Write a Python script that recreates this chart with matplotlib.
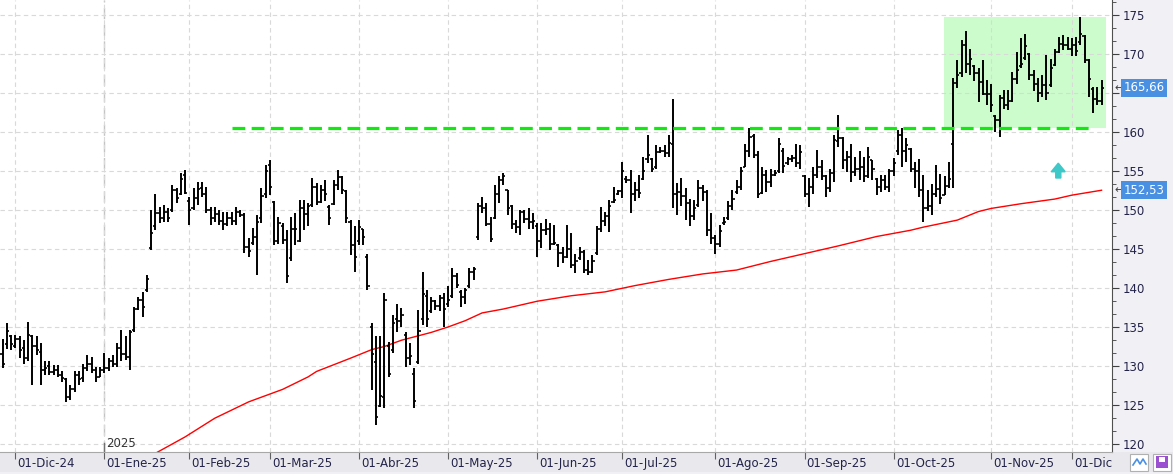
import numpy as np
import matplotlib
matplotlib.use("Agg")
import matplotlib.pyplot as plt
import matplotlib.transforms as mtransforms
from matplotlib.ticker import MultipleLocator, FuncFormatter
from matplotlib.patches import Rectangle, FancyArrow

# daily OHLC, one bar per trading day (26-Nov-24 .. 10-Dec-25)
highs = [133.5,135.5,134.0,134.0,133.8,133.3,135.7,134.0,133.8,132.9,
         130.6,130.6,130.1,130.1,129.3,128.5,127.6,129.3,129.3,130.3,
         131.4,131.2,129.9,129.9,131.6,131.0,131.4,132.9,134.6,133.9,
         134.6,137.6,138.9,139.5,141.7,150.0,152.1,150.4,150.6,150.2,
         153.2,152.8,154.7,155.1,151.7,152.8,153.6,153.6,153.0,150.4,
         150.4,150.0,149.8,149.8,149.8,150.4,150.0,149.6,146.4,147.7,
         149.4,152.8,155.8,156.4,151.1,149.1,148.3,147.4,149.1,149.6,
         151.3,151.3,150.9,154.1,153.4,153.2,153.8,150.6,153.8,155.1,
         154.3,152.6,148.7,147.9,148.7,147.6,144.4,135.5,133.8,133.8,
         139.3,133.1,136.5,138.0,137.4,134.4,132.9,129.7,137.2,142.1,
         139.7,138.9,138.5,139.1,139.3,140.2,142.5,141.9,139.7,140.0,
         142.5,142.7,150.9,151.7,150.9,149.1,153.2,154.3,154.7,152.6,
         150.6,148.7,150.0,150.0,150.2,149.6,148.3,148.3,148.9,148.3,
         148.1,145.7,145.3,148.1,147.0,144.4,145.3,144.9,143.6,144.2,
         147.9,150.4,149.8,151.3,153.0,152.6,156.2,154.3,155.1,153.6,
         154.5,156.8,159.6,156.6,158.3,158.1,158.3,159.6,164.2,153.4,
         154.1,152.8,151.4,151.3,153.8,153.2,152.6,149.6,146.8,148.1,
         149.1,151.1,152.6,153.8,155.5,158.5,160.5,159.8,157.5,155.5,
         155.1,155.3,155.1,159.2,157.9,156.8,157.0,158.5,158.3,154.5,
         154.1,155.5,157.7,156.4,154.5,155.3,159.6,162.2,159.4,157.5,
         158.5,156.8,157.5,156.8,158.1,156.4,154.1,154.5,154.5,155.3,
         156.6,160.3,160.5,159.2,158.0,156.1,156.5,154.5,152.5,153.3,
         155.8,154.6,154.3,156.2,166.9,169.2,171.8,172.9,170.7,168.6,
         168.2,169.2,166.7,166.2,162.2,164.7,165.4,165.4,167.7,170.3,
         172.0,172.6,170.1,167.9,166.9,167.3,169.9,169.4,170.7,172.2,
         172.4,172.2,172.0,172.2,174.8,172.4,169.4,165.8,165.8,166.7]

lows = [129.7,132.2,132.0,132.3,131.0,130.3,130.6,127.6,131.4,127.6,
        128.8,128.8,128.8,128.6,128.0,125.4,125.6,126.7,127.6,128.0,
        129.3,129.1,128.0,128.6,129.1,129.3,129.9,129.9,130.6,130.8,
        129.5,134.4,137.2,136.3,139.5,144.9,147.4,148.3,148.5,148.5,
        149.8,150.9,151.9,152.1,148.1,150.0,150.6,151.7,149.6,148.1,
        148.5,148.1,147.4,147.9,148.1,148.1,149.1,144.5,144.0,145.5,
        141.7,148.3,151.5,151.9,145.5,145.7,145.7,140.6,143.4,145.5,
        145.9,147.4,147.9,150.4,150.6,150.9,151.1,148.1,150.6,152.6,
        152.1,148.3,144.2,142.1,145.5,145.5,139.7,126.9,122.4,124.8,
        124.6,128.6,131.6,134.4,135.0,129.9,130.1,124.6,130.3,135.3,
        135.0,136.8,137.2,137.0,135.0,137.6,138.7,140.0,137.6,138.0,
        140.0,141.0,146.2,149.6,147.9,145.9,148.9,150.9,153.2,149.4,
        147.6,147.0,146.8,148.3,147.6,147.6,144.0,145.1,146.8,144.9,
        145.5,142.7,143.2,143.8,142.5,141.9,143.6,141.9,141.7,141.9,
        144.2,147.2,147.9,147.2,150.9,151.9,151.5,153.4,149.6,151.1,
        151.5,153.8,156.0,154.9,155.3,157.3,156.8,156.8,150.2,149.4,
        150.5,148.7,147.9,148.7,150.4,151.1,146.6,145.7,144.4,145.3,
        148.1,148.7,150.0,152.1,152.6,155.5,156.8,156.6,151.5,152.1,
        152.3,153.0,154.3,154.7,154.7,155.8,156.2,155.5,155.3,151.7,
        150.4,152.1,154.1,153.8,151.7,152.3,153.6,158.1,155.3,154.9,
        153.6,154.3,153.8,153.6,154.1,153.8,151.9,152.3,152.6,152.3,
        154.3,157.0,155.5,156.1,154.9,152.8,151.6,148.5,149.9,149.4,
        151.6,150.8,151.9,152.8,152.8,165.6,167.1,167.5,167.3,166.5,
        163.9,164.7,163.5,162.6,160.0,159.4,163.0,162.8,163.9,166.2,
        168.2,169.2,166.7,165.2,163.9,164.5,164.1,165.8,168.4,170.1,
        170.5,170.5,169.7,169.7,171.2,168.8,164.5,162.4,163.5,163.5]

opens = [131.5,132.8,133.8,132.6,133.5,132.3,131.0,133.8,132.5,131.8,
         129.5,130.0,129.2,129.5,128.9,128.3,126.0,127.0,128.8,128.4,
         129.7,130.2,129.5,128.6,129.5,129.8,130.6,130.2,132.3,131.5,
         131.2,134.6,137.3,138.5,139.8,145.1,148.0,149.6,149.0,149.8,
         150.0,152.5,152.0,154.5,151.2,150.2,151.5,152.8,152.0,150.0,
         149.0,149.5,148.6,148.2,149.0,148.6,149.8,149.4,145.3,145.8,
         146.5,149.0,152.0,155.8,151.0,146.0,148.0,146.2,143.8,147.5,
         146.0,150.2,149.5,150.6,153.0,151.0,152.5,150.4,150.8,153.2,
         154.2,152.4,148.5,145.5,146.0,147.6,144.0,135.0,130.5,124.9,
         126.0,132.5,132.0,136.0,135.8,134.0,131.0,129.0,130.5,136.0,
         139.0,137.0,138.3,137.7,138.7,138.0,139.0,141.5,139.5,138.8,
         140.2,142.0,146.5,150.5,150.2,148.2,149.0,152.0,153.8,152.6,
         150.5,148.2,147.8,149.8,148.8,148.5,148.0,146.0,147.4,147.5,
         145.6,145.5,144.5,144.0,145.0,143.0,143.8,144.6,142.3,142.0,
         144.5,147.5,148.6,149.2,151.0,152.0,152.4,154.0,153.8,152.0,
         152.5,154.0,156.5,156.5,155.5,157.4,157.6,157.3,158.5,152.0,
         152.3,151.8,150.9,149.2,150.6,152.8,152.3,147.4,146.4,145.6,
         148.3,149.0,150.5,152.3,153.0,155.5,157.6,159.5,157.0,152.2,
         154.5,153.6,154.5,155.0,157.5,156.0,156.5,156.6,156.0,154.3,
         152.0,153.0,154.5,155.5,154.3,152.8,154.8,158.8,159.2,156.4,
         156.8,154.9,155.3,155.5,154.3,156.4,154.0,153.0,153.8,153.0,
         155.0,157.5,159.6,157.5,157.8,155.3,155.0,152.5,150.3,150.5,
         152.1,152.7,151.9,153.1,158.5,166.3,167.5,171.2,168.7,168.5,
         167.5,166.4,164.9,164.9,162.0,161.5,164.3,163.5,164.0,166.8,
         168.5,169.5,170.0,167.3,166.1,165.0,166.0,166.0,168.6,170.3,
         171.3,171.1,170.7,171.2,171.5,172.3,169.2,165.5,164.2,164.0]

closes = [130.2,134.5,132.8,133.5,132.0,131.0,134.0,132.5,132.0,129.5,
          129.8,129.2,129.5,128.9,128.4,126.0,127.0,128.8,128.3,129.7,
          130.2,129.5,128.6,129.5,129.8,130.6,130.2,132.3,131.5,131.2,
          134.4,137.3,138.5,137.5,141.2,147.0,149.6,149.0,149.8,149.0,
          152.5,151.5,154.0,152.2,150.0,151.5,152.7,152.0,150.0,149.0,
          149.5,148.6,148.2,149.0,148.6,149.8,149.4,145.3,144.8,146.5,
          148.5,151.8,155.0,153.0,146.0,148.3,146.2,141.5,147.5,147.6,
          150.2,149.5,150.5,153.0,151.0,152.5,152.0,149.0,153.2,154.2,
          152.6,149.0,145.5,144.0,147.8,146.5,140.2,131.5,123.5,126.2,
          138.5,129.0,135.5,135.8,136.5,131.0,131.3,125.5,134.5,139.2,
          136.0,138.3,137.7,138.7,137.3,138.5,141.5,140.4,138.8,139.8,
          142.0,142.4,150.5,150.2,148.2,146.3,152.0,153.8,154.4,150.2,
          148.2,147.8,149.8,148.8,148.5,148.6,146.0,147.4,147.5,145.6,
          145.8,144.5,144.0,145.0,143.0,143.5,144.6,142.3,142.0,143.5,
          147.5,148.6,149.2,150.5,151.3,152.4,155.0,153.8,152.0,152.5,
          152.2,155.0,157.0,155.2,157.4,157.6,157.3,158.6,152.0,152.3,
          151.8,150.9,149.2,150.3,152.8,152.3,147.4,146.4,145.6,147.3,
          148.5,150.5,151.4,153.0,155.0,157.6,159.3,157.0,152.0,154.5,
          153.6,154.5,154.8,158.5,155.6,156.5,156.6,156.0,157.4,152.0,
          153.0,154.5,155.5,154.3,152.8,154.8,159.0,159.2,156.4,156.8,
          154.9,155.3,155.5,154.3,156.8,155.3,153.0,153.8,153.0,155.0,
          156.0,159.6,157.5,158.3,155.3,155.0,152.5,150.3,150.5,152.1,
          152.7,151.5,153.1,154.0,166.3,167.3,171.2,168.7,169.4,167.5,
          166.4,164.9,164.9,163.4,161.5,164.3,163.5,164.0,166.8,168.0,
          168.7,171.0,167.3,166.1,165.0,166.0,165.0,168.2,170.3,171.3,
          171.1,170.7,171.2,170.4,172.5,169.2,166.8,164.2,164.0,165.66]

# 200-session moving average at these bars
ma_idx = [36, 37, 43, 50, 58, 66, 72, 74, 82, 87, 90, 94, 101, 105, 109,
          113, 118, 126, 134, 142, 149, 157, 165, 173, 181, 189, 197, 206,
          214, 217, 225, 230, 233, 240, 248, 252, 259]
ma_val = [118.8, 119.1, 120.9, 123.3, 125.4, 127.0, 128.6, 129.3, 131.0, 132.1,
          132.5, 133.3, 134.3, 135.0, 135.8, 136.8, 137.3, 138.3, 139.0, 139.5,
          140.3, 141.1, 141.8, 142.3, 143.4, 144.4, 145.4, 146.6, 147.4, 147.8,
          148.7, 149.8, 150.2, 150.8, 151.4, 151.9, 152.53]

month_idx = [3, 24, 44, 63, 84, 105, 126, 146, 168, 189, 210, 233, 252]
month_labels = ["01-Dic-24", "01-Ene-25", "01-Feb-25", "01-Mar-25", "01-Abr-25",
                "01-May-25", "01-Jun-25", "01-Jul-25", "01-Ago-25", "01-Sep-25",
                "01-Oct-25", "01-Nov-25", "01-Dic"]
year_idx = 24
year_label = "2025"

resist_level = 160.55
resist_from, resist_to = 54, 256.7
box_x0, box_x1, box_y0, box_y1 = 221.9, 260.1, 160.55, 174.7
arrow_idx, arrow_y0, arrow_y1 = 248.8, 154.1, 156.0
last_price = 165.66
last_ma = 152.53
hidden_tick = 165  # covered by the last-price box on the original

W, H = 1173, 474
fig = plt.figure(figsize=(W / 100, H / 100), dpi=100)
fig.patch.set_facecolor("#f1f1f5")
fig.patches.append(Rectangle((0, 2 / H), 1, 20 / H, transform=fig.transFigure,
                             facecolor="#e9e9ed", edgecolor="none", zorder=-1))

ax = fig.add_axes([0, 22 / H, 1112 / W, 452 / H])
ax.set_facecolor("white")
ax.set_xlim(-0.61, 261.46)
ax.set_ylim(118.97, 176.92)
ax.set_axisbelow(True)

x = np.arange(len(highs))
ax.add_patch(Rectangle((box_x0, box_y0), box_x1 - box_x0, box_y1 - box_y0,
                       facecolor="#ccfccc", edgecolor="none", zorder=0.3))
ax.plot(ma_idx, ma_val, color="#ff0000", lw=1.0, zorder=2)
ax.vlines(x, lows, highs, color="black", lw=1.4, zorder=3)
ax.hlines(opens, x - 0.5, x, color="black", lw=1.2, zorder=3)
ax.hlines(closes, x, x + 0.5, color="black", lw=1.2, zorder=3)
ax.plot([resist_from, resist_to], [resist_level, resist_level], color="#10ea10",
        lw=2.3, dashes=(4, 2), zorder=4)
ax.add_patch(FancyArrow(arrow_idx, arrow_y0, 0, arrow_y1 - arrow_y0, width=1.2,
                        head_width=3.3, head_length=1.1, length_includes_head=True,
                        color="#3ec8c8", zorder=4))

# axes / grid
for s in ["top", "left"]:
    ax.spines[s].set_visible(False)
ax.spines["right"].set_color("#505050")
ax.spines["bottom"].set_color("#a8a8a8")
ax.yaxis.tick_right()
ax.yaxis.set_major_locator(MultipleLocator(5))
ax.yaxis.set_minor_locator(MultipleLocator(5 / 3))
ax.yaxis.set_major_formatter(FuncFormatter(
    lambda v, p: "" if abs(v - hidden_tick) < 0.01 else f"{v:.0f}"))
ax.tick_params(axis="y", which="major", length=5, color="#404040",
               labelsize=8.5, labelcolor="#23234a", pad=3)
ax.tick_params(axis="y", which="minor", length=3, color="#404040")
ax.set_xticks(month_idx)
ax.set_xticklabels([])
ax.tick_params(axis="x", length=5, color="#606060")
ax.grid(True, which="major", color="#d9d9d9", lw=0.8, linestyle=(0, (4, 3)))
ax.axvline(year_idx, color="#c4c4c4", lw=1.0, linestyle=(0, (8, 4)), zorder=0.5)

xt = ax.get_xaxis_transform()
for i, lab in zip(month_idx, month_labels):
    ax.text(i + 0.5, -0.025, lab, transform=xt, ha="left", va="center",
            fontsize=8.5, color="#23234a", clip_on=False)
ax.plot([year_idx, year_idx], [0, 0.02], transform=xt, color="#707070", lw=1)
ax.text(year_idx + 0.5, 0.018, year_label, transform=xt, ha="left", va="center",
        fontsize=8.5, color="#333333")

# last value labels
yt = mtransforms.blended_transform_factory(ax.transAxes, ax.transData)
for val in [last_price, last_ma]:
    ax.text(1.002, val, "\u2190", transform=yt, ha="left", va="center",
            fontsize=8, color="#404040", clip_on=False)
    ax.text(1.0105, val, f"{val:.2f}".replace(".", ","), transform=yt,
            ha="left", va="center", fontsize=8.5, color="white", clip_on=False,
            zorder=5, bbox=dict(boxstyle="square,pad=0.2", facecolor="#4a90e2",
                                edgecolor="none"))

# small toolbar icons bottom right
for x0 in [1130, 1153]:
    fig.patches.append(Rectangle((x0 / W, 3 / H), 18 / W, 17 / H,
                                 transform=fig.transFigure, facecolor="white",
                                 edgecolor="#b0b0b0", lw=0.8))
fig.add_artist(plt.Line2D(np.array([1133, 1137, 1140, 1143, 1146]) / W,
                          np.array([9, 15, 10, 15, 10]) / H,
                          color="#4a90e2", lw=1.2))
fig.patches.append(Rectangle((1156 / W, 6 / H), 12 / W, 12 / H,
                             transform=fig.transFigure, facecolor="#9a50d0",
                             edgecolor="none"))
fig.patches.append(Rectangle((1159 / W, 12 / H), 6 / W, 5 / H,
                             transform=fig.transFigure, facecolor="white",
                             edgecolor="none"))

fig.savefig("out.png", dpi=100, facecolor=fig.get_facecolor())
